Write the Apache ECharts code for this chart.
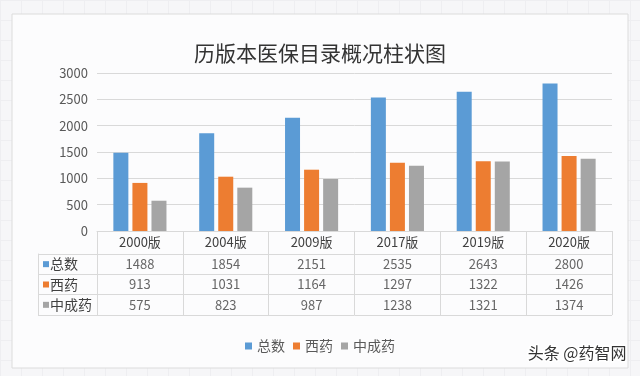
<!DOCTYPE html>
<html>
<head>
<meta charset="utf-8">
<script src="https://cdn.jsdelivr.net/npm/echarts@6/dist/echarts.min.js"></script>
<style>
  html, body { margin: 0; padding: 0; }
  body {
    width: 640px; height: 376px;
    background-color: #f6f6f8;
    background-image:
      linear-gradient(to right, #eeeef1 1px, transparent 1px),
      linear-gradient(to bottom, #eeeef1 1px, transparent 1px);
    background-size: 21px 20px;
  }
  #chart { width: 640px; height: 376px; }
</style>
</head>
<body>
<div id="chart"></div>
<script>
// 历版本医保目录
const versions = ['2000版', '2004版', '2009版', '2017版', '2019版', '2020版']
const totalList = [1488, 1854, 2151, 2535, 2643, 2800]
const westList = [913, 1031, 1164, 1297, 1322, 1426]
const chineseList = [575, 823, 987, 1238, 1321, 1374]
const seriesNames = ['总数', '西药', '中成药']
const colors = ['#5B9BD5', '#ED7D31', '#A5A5A5']

const font = '"Noto Sans CJK SC", sans-serif'
const lineColor = '#d9d9d9'

// 表格单元格
const tableData = []
;[totalList, westList, chineseList].forEach((list, r) => {
  list.forEach((v, i) => {
    tableData.push([versions[i], seriesNames[r], v])
  })
})

const chart = echarts.init(document.getElementById('chart'))

const option = {
  textStyle: { fontFamily: font },
  color: colors,
  title: {
    text: '历版本医保目录概况柱状图',
    left: 'center',
    top: 38,
    textStyle: { fontSize: 21, fontWeight: 'normal', color: '#333', fontFamily: font }
  },
  legend: {
    data: seriesNames,
    bottom: 18,
    left: 'center',
    icon: 'rect',
    itemWidth: 7,
    itemHeight: 7,
    itemGap: 8,
    textStyle: { fontSize: 14, color: '#595959', fontFamily: font }
  },
  graphic: [
    {
      // 外框
      type: 'rect',
      z: -10,
      shape: { x: 12, y: 14, width: 616, height: 354 },
      style: { fill: '#fcfcfd', stroke: '#dcdcdc', lineWidth: 1 }
    },
    {
      type: 'text',
      right: 12,
      top: 343,
      style: {
        text: '头条 @药智网',
        fontSize: 16,
        fontFamily: font,
        fill: '#333',
        stroke: '#fff',
        lineWidth: 3,
        shadowColor: 'rgba(0,0,0,0.25)',
        shadowBlur: 2
      }
    }
  ],
  grid: [
    { left: 97, right: 28, top: 73, height: 158 },
    { left: 97, right: 28, top: 254, height: 61 },
    { left: 38, width: 59, top: 254, height: 61 }
  ],
  xAxis: [
    {
      type: 'category',
      gridIndex: 0,
      data: versions,
      axisLine: { lineStyle: { color: lineColor } },
      axisTick: { show: true, length: 23, lineStyle: { color: lineColor } },
      axisLabel: { margin: 5, fontSize: 13, color: '#404040', fontFamily: font }
    },
    {
      type: 'category',
      gridIndex: 1,
      data: versions,
      axisLine: { show: false },
      axisTick: { show: false },
      axisLabel: { show: false },
      splitLine: { show: true, lineStyle: { color: lineColor } }
    },
    {
      type: 'value',
      gridIndex: 2,
      min: 0,
      max: 1,
      show: false
    }
  ],
  yAxis: [
    {
      type: 'value',
      gridIndex: 0,
      min: 0,
      max: 3000,
      interval: 500,
      axisLine: { show: false },
      axisTick: { show: false },
      axisLabel: {
        margin: 9,
        fontSize: 13,
        color: '#595959',
        fontFamily: font,
        formatter: v => String(v)
      },
      splitLine: { lineStyle: { color: lineColor } }
    },
    {
      type: 'category',
      gridIndex: 1,
      data: seriesNames,
      inverse: true,
      axisLine: { show: false },
      axisTick: { show: false },
      axisLabel: { show: false },
      splitLine: { show: true, lineStyle: { color: lineColor } }
    },
    {
      type: 'category',
      gridIndex: 2,
      data: seriesNames,
      inverse: true,
      axisLine: { show: true, lineStyle: { color: lineColor } },
      axisTick: { show: false },
      splitLine: { show: true, lineStyle: { color: lineColor } },
      axisLabel: {
        inside: true,
        margin: 5,
        formatter: (v, i) => '{s' + i + '|}{t|' + v + '}',
        rich: {
          s0: { width: 6, height: 6, backgroundColor: colors[0] },
          s1: { width: 6, height: 6, backgroundColor: colors[1] },
          s2: { width: 6, height: 6, backgroundColor: colors[2] },
          t: { fontSize: 14, color: '#404040', fontFamily: font, padding: [0, 0, 0, 1] }
        }
      }
    }
  ],
  series: [
    {
      name: '总数',
      type: 'bar',
      barWidth: 15,
      barGap: '27%',
      data: totalList
    },
    {
      name: '西药',
      type: 'bar',
      barWidth: 15,
      barGap: '27%',
      data: westList
    },
    {
      name: '中成药',
      type: 'bar',
      barWidth: 15,
      barGap: '27%',
      data: chineseList
    },
    {
      // 数据表
      type: 'scatter',
      xAxisIndex: 1,
      yAxisIndex: 1,
      symbolSize: 0,
      silent: true,
      label: {
        show: true,
        position: 'inside',
        fontSize: 13,
        color: '#404040',
        fontFamily: font,
        formatter: p => p.value[2]
      },
      data: tableData
    }
  ]
}

chart.setOption(option)
</script>
</body>
</html>
